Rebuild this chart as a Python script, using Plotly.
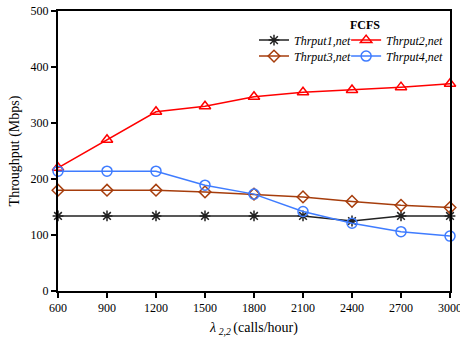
import plotly.graph_objects as go

x_vals = [600, 900, 1200, 1500, 1800, 2100, 2400, 2700, 3000]
thrput1 = [134, 134, 134, 134, 134, 134, 125, 134, 134]
thrput2 = [220, 270, 320, 330, 347, 355, 359, 364, 370]
thrput3 = [180, 180, 180, 177, 173, 168, 160, 153, 149]
thrput4 = [214, 214, 214, 189, 173, 142, 121, 106, 98]
y_ticks = [0, 100, 200, 300, 400, 500]

series = [
    ("Thrput1,net", thrput1, "#222222", "asterisk-open", 9, "legend"),
    ("Thrput2,net", thrput2, "#ff0000", "triangle-up-open", 10, "legend2"),
    ("Thrput3,net", thrput3, "#a63d0c", "diamond-open", 9, "legend3"),
    ("Thrput4,net", thrput4, "#3f7cff", "circle-open", 10, "legend4"),
]

fig = go.Figure()
for name, ys, color, sym, size, leg in series:
    fig.add_trace(go.Scatter(
        x=x_vals, y=ys, mode="lines+markers", name=name,
        line=dict(color=color, width=1.5),
        marker=dict(symbol=sym, size=size, color=color, line=dict(color=color, width=1.5)),
        cliponaxis=False, legend=leg,
    ))

font_family = "Liberation Serif"
leg_font = dict(family=font_family, size=12, style="italic", color="black")
leg_pos = {"legend": (0.500, 0.896), "legend2": (0.735, 0.896),
           "legend3": (0.500, 0.839), "legend4": (0.735, 0.839)}
legend_layout = {}
for key, (lx, ly) in leg_pos.items():
    legend_layout[key] = dict(x=lx, y=ly, xanchor="left", yanchor="middle",
                              bgcolor="rgba(0,0,0,0)", font=leg_font,
                              itemwidth=30, borderwidth=0)

fig.update_layout(
    width=460, height=337,
    margin=dict(l=58, r=10, t=11, b=46, autoexpand=False),
    paper_bgcolor="white", plot_bgcolor="white",
    font=dict(family=font_family, size=12, color="black"),
    showlegend=True,
    annotations=[dict(text="<b>FCFS</b>", x=0.783, y=0.95, xref="paper", yref="paper",
                      xanchor="center", yanchor="middle",
                      showarrow=False, font=dict(family=font_family, size=12))],
    **legend_layout,
)
fig.update_xaxes(
    range=[600, 3000], tickvals=x_vals, ticks="outside", ticklen=5, tickwidth=1.5,
    tickcolor="black", showline=True, linecolor="black", linewidth=2, mirror=True,
    showgrid=False, zeroline=False, automargin=False, ticklabeloverflow="allow",
    tickfont=dict(color="black"),
    title=dict(text="<i>λ</i><sub><i> 2,2 </i></sub>(calls/hour)", standoff=8),
)
fig.update_yaxes(
    range=[0, 500], tickvals=y_ticks, ticks="outside", ticklen=5, tickwidth=1.5,
    tickcolor="black", showline=True, linecolor="black", linewidth=2, mirror=True,
    showgrid=False, zeroline=False, automargin=False,
    tickfont=dict(color="black"),
    title=dict(text="Throughput (Mbps)", standoff=8),
)
fig.write_html("out.html", config={"displayModeBar": False},
               post_script="document.body.style.margin='0px';")
